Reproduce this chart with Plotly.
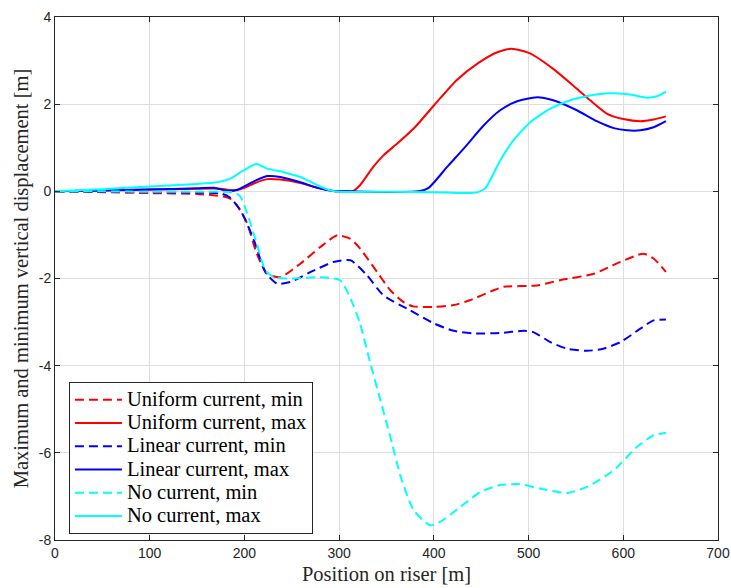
import plotly.graph_objects as go

# Uniform current
uni_max_x = [0, 50, 100, 150, 175, 185, 192, 200, 210, 224, 238, 259, 277, 294, 305, 314, 322, 336, 347, 361, 380, 400, 424, 446, 467, 482, 502, 526, 547, 565, 583, 600, 618, 632, 645]
uni_max_y = [0, 0.02, 0.04, 0.06, 0.06, 0.03, 0.03, 0.08, 0.18, 0.28, 0.27, 0.19, 0.08, 0.01, 0, 0, 0.14, 0.56, 0.83, 1.09, 1.47, 1.97, 2.55, 2.93, 3.19, 3.27, 3.16, 2.81, 2.43, 2.09, 1.78, 1.66, 1.61, 1.65, 1.72]
uni_min_x = [0, 50, 100, 150, 167, 180, 185, 192, 203, 213, 224, 238, 259, 280, 298, 312, 322, 340, 354, 368, 378, 400, 421, 438, 463, 474, 509, 533, 569, 597, 621, 632, 645]
uni_min_y = [0, -0.02, -0.04, -0.06, -0.09, -0.13, -0.17, -0.32, -0.74, -1.43, -1.89, -1.97, -1.66, -1.28, -1.01, -1.09, -1.31, -1.85, -2.27, -2.54, -2.64, -2.65, -2.61, -2.5, -2.27, -2.19, -2.16, -2.04, -1.89, -1.62, -1.43, -1.54, -1.85]

# Linear current
lin_max_x = [0, 50, 100, 150, 168, 182, 192, 210, 224, 238, 259, 277, 294, 310, 384, 394.5, 414, 431.5, 452.5, 470, 486, 509, 526, 551, 572, 590, 604, 618, 632, 645]
lin_max_y = [0, 0.02, 0.04, 0.07, 0.08, 0.01, 0.03, 0.23, 0.35, 0.33, 0.21, 0.08, 0.01, 0, 0, 0.08, 0.56, 0.98, 1.51, 1.86, 2.05, 2.16, 2.09, 1.86, 1.61, 1.45, 1.40, 1.40, 1.47, 1.61]
lin_min_x = [0, 50, 100, 150, 175, 184, 196, 210, 222, 234.5, 248.5, 270, 294, 312, 329.5, 347, 375, 400, 421, 442, 470, 495, 505, 523, 540.5, 561.7, 579, 597, 618, 632, 645]
lin_min_y = [0, -0.01, -0.02, -0.03, -0.05, -0.13, -0.44, -1.12, -1.85, -2.12, -2.08, -1.85, -1.62, -1.58, -1.93, -2.39, -2.73, -3.03, -3.2, -3.26, -3.25, -3.2, -3.23, -3.46, -3.61, -3.66, -3.61, -3.46, -3.15, -2.96, -2.94]

# No current
no_max_x = [0, 50, 101, 150, 171, 185, 199, 213, 224, 241.5, 259, 277, 291, 300, 350, 400, 444, 454.5, 470, 484, 502, 523, 544, 565, 586, 607, 625, 635.5, 645]
no_max_y = [0, 0.05, 0.11, 0.17, 0.21, 0.29, 0.48, 0.63, 0.52, 0.44, 0.33, 0.14, 0.02, -0.01, -0.01, -0.02, -0.03, 0.08, 0.71, 1.17, 1.59, 1.90, 2.09, 2.20, 2.25, 2.22, 2.15, 2.18, 2.29]
no_min_x = [0, 50, 100, 150, 190, 196, 203, 213, 222, 231, 248.5, 280, 301, 312, 322, 333, 343.5, 354, 365, 378.7, 396, 407, 428, 449, 470, 491, 512, 540.5, 561.7, 590, 614.5, 632, 645]
no_min_y = [0, 0, -0.01, -0.01, -0.03, -0.13, -0.51, -1.2, -1.81, -1.97, -2.0, -1.97, -2.04, -2.46, -3.03, -3.95, -4.79, -5.63, -6.55, -7.32, -7.66, -7.58, -7.24, -6.9, -6.74, -6.72, -6.82, -6.92, -6.78, -6.4, -5.86, -5.6, -5.54]

x_ticks = [0, 100, 200, 300, 400, 500, 600, 700]
y_ticks = [-8, -6, -4, -2, 0, 2, 4]
y_tick_labels = ["-8", "-6", "-4", "-2", "0", "2", "4"]

series_names = ["Uniform current, min", "Uniform current, max",
                "Linear current, min", "Linear current, max",
                "No current, min", "No current, max"]
series_x = [uni_min_x, uni_max_x, lin_min_x, lin_max_x, no_min_x, no_max_x]
series_y = [uni_min_y, uni_max_y, lin_min_y, lin_max_y, no_min_y, no_max_y]
series_colors = ["#FF0000", "#FF0000", "#0000FF", "#0000FF", "#00FFFF", "#00FFFF"]
series_dash = ["9px,5px", "solid", "9px,5px", "solid", "9px,5px", "solid"]

fig = go.Figure()
for name, xs, ys, color, dash in zip(series_names, series_x, series_y, series_colors, series_dash):
    fig.add_trace(go.Scatter(
        x=xs, y=ys, mode="lines",
        name="<span style='font-size:20.5px'>" + name + "</span>",
        line=dict(color=color, width=2, dash=dash, shape="spline", smoothing=0.6),
    ))

axis_common = dict(
    showline=True, linecolor="#262626", linewidth=1, mirror="ticks",
    ticks="inside", ticklen=5, tickcolor="#262626",
    showgrid=True, gridcolor="#dedede", gridwidth=1, zeroline=False,
    tickfont=dict(family="Liberation Sans", size=14, color="#262626"),
)

fig.update_layout(
    width=731, height=588,
    margin=dict(l=55, r=13, t=17, b=48),
    paper_bgcolor="white", plot_bgcolor="white",
    xaxis=dict(range=[0, 700], tickvals=x_ticks, automargin=False,
               title=dict(text="Position on riser [m]", standoff=6,
                          font=dict(family="Liberation Serif", size=20.5, color="#262626")),
               **axis_common),
    yaxis=dict(range=[-8, 4], tickvals=y_ticks, ticktext=y_tick_labels, automargin=False,
               title=dict(text="Maximum and minimum vertical displacement [m]", standoff=4,
                          font=dict(family="Liberation Serif", size=20.5, color="#262626")),
               **axis_common),
    legend=dict(x=0.021, y=0.302, xanchor="left", yanchor="top",
                bgcolor="white", bordercolor="#262626", borderwidth=1,
                font=dict(family="Liberation Serif", size=15.6, color="#000000"),
                tracegroupgap=0, itemwidth=47),
    showlegend=True,
)

fig.write_html("out.html")
